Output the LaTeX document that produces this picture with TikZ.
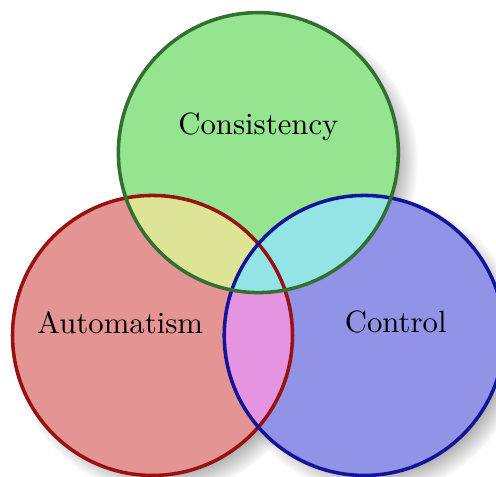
\documentclass[tikz,border=0pt]{standalone}
\usepackage{tikz}
\usetikzlibrary{shadows,fadings}

\definecolor{autofill}{RGB}{229,148,148}
\definecolor{contfill}{RGB}{145,148,230}
\definecolor{consfill}{RGB}{148,228,144}
\definecolor{akfill}{RGB}{221,228,150}
\definecolor{ckfill}{RGB}{148,228,230}
\definecolor{acfill}{RGB}{229,148,226}
\definecolor{allfill}{RGB}{224,224,224}
\definecolor{autodraw}{RGB}{152,18,18}
\definecolor{contdraw}{RGB}{20,20,152}
\definecolor{consdraw}{RGB}{50,112,50}

\begin{document}
\begin{tikzpicture}[
    venn/.style={line width=1.15pt},
    shade/.style={circular drop shadow={shadow xshift=3pt, shadow yshift=-3pt, shadow scale=1.07, opacity=.6}},
]
    \useasboundingbox (-1.743,-1.617) rectangle (3.926,3.834);

    \def\r{1.6}
    \coordinate (A) at (0,0);       % Automatism
    \coordinate (C) at (2.42,0);    % Control
    \coordinate (K) at (1.21,2.09); % Consistency

    % shadows below everything
    \foreach \p in {A,C,K}
        \path[shade] (\p) circle (\r);

    \fill[autofill] (A) circle (\r);
    \fill[contfill] (C) circle (\r);
    \fill[consfill] (K) circle (\r);

    % overlaps
    \begin{scope}
        \clip (A) circle (\r);
        \fill[acfill] (C) circle (\r);
        \fill[akfill] (K) circle (\r);
        \clip (C) circle (\r);
        \fill[allfill] (K) circle (\r);
    \end{scope}
    \begin{scope}
        \clip (C) circle (\r);
        \fill[ckfill] (K) circle (\r);
    \end{scope}

    \draw[venn, autodraw] (A) circle (\r);
    \draw[venn, contdraw] (C) circle (\r);
    \draw[venn, consdraw] (K) circle (\r);

    \node (auto) at (-0.37,0.15) {Automatism};
    \node (cont) at (2.78,0.15) {Control};
    \node (cons) at (1.21,2.38) {Consistency};

\end{tikzpicture}
\end{document}
